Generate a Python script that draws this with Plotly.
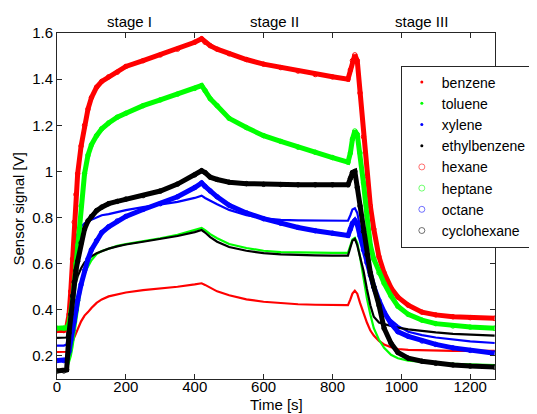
import plotly.graph_objects as go

# ---- data ----
time_s = [0, 20, 28, 35, 40, 45, 50, 55, 60, 70, 80, 90, 100, 115, 130, 150, 175, 200,
          250, 300, 350, 400, 420, 430, 445, 465, 500, 550, 600, 650, 700, 750, 800, 845,
          852, 858, 865, 872, 880, 890, 900, 910, 920, 935, 950, 970, 990,
          1020, 1060, 1100, 1150, 1200, 1271]

benzene = [0.217, 0.217, 0.218, 0.225, 0.24, 0.26, 0.28, 0.30, 0.315,
           0.35, 0.375, 0.39, 0.408, 0.43, 0.445, 0.458, 0.468, 0.475,
           0.485, 0.492, 0.50, 0.51, 0.515,
           0.508, 0.495, 0.48, 0.463, 0.445, 0.435, 0.428, 0.424, 0.422, 0.421, 0.42,
           0.445, 0.47, 0.483, 0.47, 0.43, 0.385, 0.345, 0.31, 0.288, 0.265, 0.25, 0.238, 0.23,
           0.226, 0.224, 0.223, 0.222, 0.222, 0.222]

toluene = [0.135, 0.135, 0.14, 0.17, 0.2, 0.24, 0.29, 0.35, 0.4,
           0.5, 0.56, 0.59, 0.615, 0.642, 0.655, 0.665, 0.677, 0.685,
           0.697, 0.71, 0.725, 0.745, 0.755,
           0.745, 0.728, 0.71, 0.685, 0.668, 0.656, 0.65, 0.648, 0.647, 0.647, 0.647,
           0.68, 0.705, 0.712, 0.69, 0.63, 0.54, 0.45, 0.38, 0.32, 0.27, 0.235, 0.205, 0.19,
           0.18, 0.174, 0.17, 0.166, 0.163, 0.16]

xylene = [0.245, 0.245, 0.25, 0.33, 0.48, 0.6, 0.67, 0.715, 0.73,
          0.76, 0.775, 0.785, 0.79, 0.80, 0.81, 0.815, 0.825, 0.832,
          0.845, 0.855, 0.868, 0.885, 0.895,
          0.885, 0.872, 0.858, 0.833, 0.81, 0.797, 0.79, 0.788, 0.787, 0.786, 0.786,
          0.81, 0.835, 0.84, 0.82, 0.76, 0.67, 0.6, 0.535, 0.48, 0.43, 0.39, 0.355, 0.33,
          0.305, 0.29, 0.28, 0.27, 0.263, 0.256]

ethylbenzene = [0.278, 0.278, 0.28, 0.33, 0.4, 0.45, 0.49, 0.52, 0.545,
                0.58, 0.605, 0.62, 0.632, 0.645, 0.655, 0.665, 0.675, 0.683,
                0.695, 0.707, 0.72, 0.737, 0.746,
                0.735, 0.715, 0.695, 0.672, 0.656, 0.646, 0.64, 0.637, 0.636, 0.635, 0.635,
                0.67, 0.7, 0.708, 0.68, 0.63, 0.57, 0.49, 0.42, 0.37, 0.345, 0.338, 0.33, 0.323,
                0.315, 0.307, 0.302, 0.296, 0.292, 0.288]

hexane = [0.31, 0.31, 0.32, 0.38, 0.48, 0.62, 0.78, 0.9, 0.99,
          1.11, 1.2, 1.27, 1.32, 1.365, 1.39, 1.41, 1.43, 1.455,
          1.48, 1.505, 1.53, 1.56, 1.575,
          1.56, 1.545, 1.53, 1.51, 1.485, 1.465, 1.45, 1.435, 1.42, 1.41, 1.40,
          1.44, 1.48, 1.505, 1.48, 1.34, 1.15, 0.98, 0.85, 0.75, 0.63, 0.56, 0.495, 0.455,
          0.42, 0.39, 0.378, 0.37, 0.366, 0.363]

heptane = [0.32, 0.32, 0.322, 0.34, 0.38, 0.44, 0.51, 0.6, 0.68,
           0.85, 0.99, 1.07, 1.115, 1.155, 1.185, 1.21, 1.235, 1.252,
           1.285, 1.31, 1.335, 1.36, 1.372,
           1.35, 1.315, 1.285, 1.23, 1.19, 1.155, 1.13, 1.105, 1.083, 1.06, 1.04,
           1.08, 1.14, 1.175, 1.16, 1.08, 0.95, 0.81, 0.68, 0.62, 0.56, 0.515, 0.46, 0.415,
           0.38, 0.355, 0.34, 0.33, 0.325, 0.32]

octane = [0.18, 0.18, 0.183, 0.22, 0.27, 0.31, 0.35, 0.4, 0.44,
          0.51, 0.57, 0.62, 0.66, 0.70, 0.735, 0.76, 0.785, 0.805,
          0.835, 0.86, 0.89, 0.93, 0.95,
          0.935, 0.915, 0.89, 0.853, 0.82, 0.795, 0.775, 0.757, 0.743, 0.732, 0.722,
          0.75, 0.775, 0.787, 0.77, 0.72, 0.66, 0.605, 0.55, 0.5, 0.44, 0.39, 0.34, 0.305,
          0.285, 0.265, 0.25, 0.235, 0.224, 0.212]

cyclohexane = [0.135, 0.135, 0.14, 0.3, 0.38, 0.46, 0.52, 0.57, 0.61,
               0.69, 0.75, 0.785, 0.805, 0.83, 0.845, 0.86, 0.87, 0.88,
               0.895, 0.915, 0.945, 0.985, 1.003,
               0.995, 0.975, 0.965, 0.953, 0.947, 0.944, 0.943, 0.942, 0.942, 0.942, 0.942,
               0.97, 0.995, 1.0, 0.93, 0.85, 0.74, 0.64, 0.56, 0.5, 0.42, 0.32, 0.255, 0.215,
               0.19, 0.177, 0.168, 0.161, 0.156, 0.152]

dot_names = ["benzene", "toluene", "xylene", "ethylbenzene"]
dot_series = [benzene, toluene, xylene, ethylbenzene]
circle_names = ["hexane", "heptane", "octane", "cyclohexane"]
circle_series = [hexane, heptane, octane, cyclohexane]
colors = ["#ff0000", "#00ff00", "#0000ff", "#000000"]

stage_labels = ["stage I", "stage II", "stage III"]
stage_centers = [210, 632, 1058]

x_ticks = [0, 200, 400, 600, 800, 1000, 1200]
y_ticks = [0.2, 0.4, 0.6, 0.8, 1.0, 1.2, 1.4, 1.6]

FONT = "Liberation Sans, Arial, Helvetica, sans-serif"

fig = go.Figure()

# thin (dot-marker) series
for name, ys, col in zip(dot_names, dot_series, colors):
    fig.add_trace(go.Scatter(x=time_s, y=ys, mode="lines", name=name,
                             line=dict(color=col, width=2.2), showlegend=False))
# thick (circle-marker) series
for name, ys, col in zip(circle_names, circle_series, colors):
    fig.add_trace(go.Scatter(x=time_s, y=ys, mode="lines+markers", name=name,
                             line=dict(color=col, width=5),
                             marker=dict(symbol="circle-open", size=4.5, color=col,
                                         line=dict(width=1, color=col)),
                             showlegend=False))

# legend entries (marker only, as in the reference)
for name, col in zip(dot_names, colors):
    fig.add_trace(go.Scatter(x=[None], y=[None], mode="markers", name=name,
                             marker=dict(symbol="circle", size=3, color=col)))
for name, col in zip(circle_names, colors):
    fig.add_trace(go.Scatter(x=[None], y=[None], mode="markers", name=name,
                             marker=dict(symbol="circle-open", size=6, color=col,
                                         opacity=0.55, line=dict(width=1, color=col))))

for lab, xc in zip(stage_labels, stage_centers):
    fig.add_annotation(x=xc, xref="x", y=1.0, yref="paper", yanchor="bottom",
                       text=lab, showarrow=False, yshift=1,
                       font=dict(family=FONT, size=15, color="#000"))

fig.add_annotation(x=0.5, xref="paper", y=-0.075, yref="paper", yanchor="middle",
                   text="Time [s]", showarrow=False,
                   font=dict(family=FONT, size=15, color="#000"))
fig.add_annotation(x=-0.089, xref="paper", y=0.49, yref="paper", xanchor="center",
                   yanchor="middle", textangle=-90,
                   text="Sensor signal [V]", showarrow=False,
                   font=dict(family=FONT, size=15, color="#000"))

axis_common = dict(showgrid=False, zeroline=False, showline=True, linecolor="#262626",
                   linewidth=1, mirror="allticks", ticks="inside", ticklen=5,
                   tickcolor="#262626", automargin=False,
                   tickfont=dict(family=FONT, size=15, color="#000"))

fig.update_xaxes(range=[0, 1272], tickvals=x_ticks, ticklabelstandoff=-6, **axis_common)
fig.update_yaxes(range=[0.1, 1.6], tickvals=y_ticks,
                 ticktext=[("%g" % v) for v in y_ticks], **axis_common)

# the page adds an 8px body margin, so the figure is shifted by 8px right/down;
# margins are reduced on the left/top to keep the plot area where the reference has it
fig.update_layout(
    template="none",
    width=537, height=414,
    margin=dict(l=49, r=50, t=25, b=43, autoexpand=False),
    paper_bgcolor="white", plot_bgcolor="white",
    font=dict(family=FONT, size=15, color="#000"),
    showlegend=True,
    legend=dict(x=0.785, y=0.906, xanchor="left", yanchor="top",
                bgcolor="white", bordercolor="#262626", borderwidth=1,
                font=dict(family=FONT, size=14, color="#000"),
                itemsizing="trace", tracegroupgap=0),
)

fig.write_html("out.html")
